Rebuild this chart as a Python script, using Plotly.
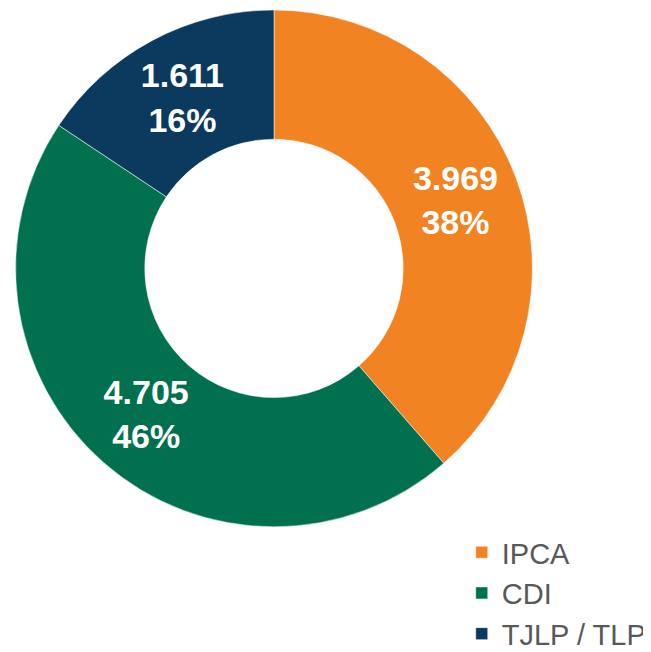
import plotly.graph_objects as go

categories = ["IPCA", "CDI", "TJLP / TLP"]
values = [3969, 4705, 1611]
value_labels = ["3.969", "4.705", "1.611"]
pct_labels = ["38%", "46%", "16%"]
colors = ["#F28322", "#00704F", "#0C3A5E"]

text = [f"{v}<br>{p}" for v, p in zip(value_labels, pct_labels)]

fig = go.Figure(go.Pie(
    labels=categories,
    values=values,
    text=text,
    textinfo="text",
    hole=0.5,
    sort=False,
    direction="clockwise",
    rotation=0,
    marker=dict(colors=colors, line=dict(color="white", width=0.5)),
    textposition="inside",
    insidetextorientation="horizontal",
    textfont=dict(family="Liberation Sans, Arial", size=34, color="white", weight="bold"),
    domain=dict(x=[6/651, 526/651], y=[1-522/652, 1-2/652]),
    hoverinfo="label+value",
))

fig.update_layout(
    width=651, height=652,
    margin=dict(l=0, r=0, t=0, b=0),
    paper_bgcolor="white",
    plot_bgcolor="white",
    showlegend=True,
    legend=dict(
        x=0.697, y=-0.006, xanchor="left", yanchor="bottom",
        font=dict(family="Liberation Sans, Arial", size=29, color="#595959"),
        itemwidth=30,
        tracegroupgap=0,
    ),
    uniformtext=dict(minsize=34, mode="show"),
)

fig.write_html("out.html")
